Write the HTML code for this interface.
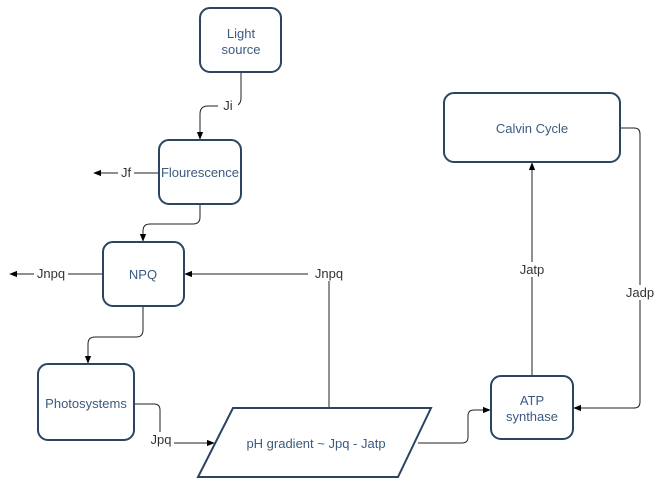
<!DOCTYPE html>
<html><head><meta charset="utf-8"><style>
html,body{margin:0;padding:0;background:#fff;}
svg{display:block;font-family:"Liberation Sans",sans-serif;}
.b{fill:#fff;stroke:#2b4560;stroke-width:2;}
.t{fill:#3b5a80;font-size:13px;text-anchor:middle;}
.l{fill:#333;font-size:13px;text-anchor:middle;}
.c{fill:none;stroke:#222;stroke-width:1;}
</style></head><body>
<svg width="671" height="495" viewBox="0 0 671 495">
<defs><marker id="a" viewBox="0 0 10 10" refX="9" refY="5" markerWidth="8" markerHeight="8" orient="auto"><path d="M0,1 L10,5 L0,9 z" fill="#000"/></marker></defs>
<path class="c" d="M241,72 V98 Q241,106 233,106 H208 Q200,106 200,114 V139" marker-end="url(#a)"/>
<rect x="218" y="98" width="20" height="15" fill="#fff"/>
<text x="228" y="110" class="l">Ji</text>
<path class="c" d="M159,173 H94" marker-end="url(#a)"/>
<rect x="118" y="165" width="16" height="15" fill="#fff"/>
<text x="126" y="177" class="l">Jf</text>
<path class="c" d="M200,204 V217 Q200,224 193,224 H150 Q143,224 143,231 V241" marker-end="url(#a)"/>
<path class="c" d="M103,274 H10" marker-end="url(#a)"/>
<rect x="34" y="266" width="34" height="15" fill="#fff"/>
<text x="51" y="278" class="l">Jnpq</text>
<path class="c" d="M329,408 V274 H185" marker-end="url(#a)"/>
<rect x="308" y="266" width="42" height="15" fill="#fff"/>
<text x="329" y="278" class="l">Jnpq</text>
<path class="c" d="M143,306 V330 Q143,337 136,337 H95 Q88,337 88,344 V363" marker-end="url(#a)"/>
<path class="c" d="M134,404 H154 Q160,404 160,410 V443 H214" marker-end="url(#a)"/>
<rect x="146" y="432" width="28" height="15" fill="#fff"/>
<text x="161" y="444" class="l">Jpq</text>
<path class="c" d="M418,443 H462 Q468,443 468,437 V416 Q468,410 474,410 H490" marker-end="url(#a)"/>
<path class="c" d="M532,376 V163" marker-end="url(#a)"/>
<rect x="514" y="262" width="36" height="15" fill="#fff"/>
<text x="532" y="274" class="l">Jatp</text>
<path class="c" d="M620,128 H634 Q640,128 640,134 V402 Q640,408 634,408 H574" marker-end="url(#a)"/>
<rect x="622" y="285" width="36" height="15" fill="#fff"/>
<text x="640" y="297" class="l">Jadp</text>
<rect class="b" x="200" y="8" width="81" height="64" rx="10"/>
<text class="t" x="241" y="38">Light</text><text class="t" x="241" y="54">source</text>
<rect class="b" x="159" y="140" width="82" height="64" rx="10"/>
<text class="t" x="200" y="177">Flourescence</text>
<rect class="b" x="103" y="242" width="81" height="64" rx="10"/>
<text class="t" x="143" y="279">NPQ</text>
<rect class="b" x="38" y="364" width="96" height="76" rx="10"/>
<text class="t" x="86" y="408">Photosystems</text>
<polygon class="b" points="233,408 431,408 398,477 198,477"/>
<text class="t" x="316" y="448">pH gradient ~ Jpq - Jatp</text>
<rect class="b" x="491" y="376" width="82" height="63" rx="10"/>
<text class="t" x="532" y="405">ATP</text><text class="t" x="532" y="421">synthase</text>
<rect class="b" x="444" y="93" width="176" height="69" rx="10"/>
<text class="t" x="532" y="133">Calvin Cycle</text>
</svg>
</body></html>
